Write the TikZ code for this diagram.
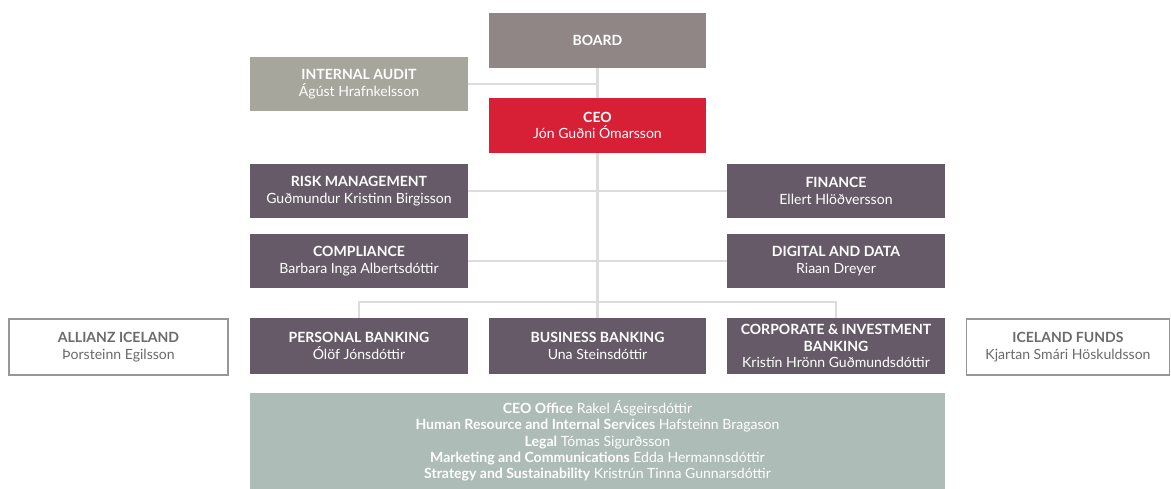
\documentclass[tikz,border=0pt]{standalone}
\usepackage{fontspec}
\setmainfont{Lato}
\usepackage{tikz}

\definecolor{boardgray}{HTML}{908686}
\definecolor{auditgray}{HTML}{A6A69C}
\definecolor{ceored}{HTML}{D71F35}
\definecolor{unitplum}{HTML}{665A68}
\definecolor{officegreen}{HTML}{ADBCB6}
\definecolor{linegray}{HTML}{DCDCDC}
\definecolor{textgray}{HTML}{6B6B6B}

\tikzset{
    unit/.style={minimum width=4.36cm, minimum height=1.1cm, inner sep=0pt,
        align=center, text=white, font=\fontsize{8}{9.5}\selectfont},
    plumbox/.style={unit, fill=unitplum},
    outsidebox/.style={unit, fill=white, draw=textgray!70, line width=0.6pt, text=textgray},
    orgline/.style={draw=linegray, line width=1.2pt}
}

\begin{document}
\begin{tikzpicture}[x=0.02cm, y=-0.02cm]
    % Page frame
    \useasboundingbox (0,0) rectangle (1171,489);

    % Top: board, internal audit, CEO
    \node[unit, fill=boardgray, minimum width=4.34cm] (board) at (597.5,40.5) {\bfseries BOARD};
    \node[unit, fill=auditgray, minimum height=1.08cm] (audit) at (359,84) {\bfseries INTERNAL AUDIT\\ Ágúst Hrafnkelsson};
    \node[unit, fill=ceored, minimum width=4.34cm] (ceo) at (597.5,125.5) {\bfseries CEO\\ Jón Guðni Ómarsson};

    % Staff functions
    \node[plumbox, minimum height=1.08cm] (risk) at (359,191) {\bfseries RISK MANAGEMENT\\ Guðmundur Kristinn Birgisson};
    \node[plumbox, minimum height=1.08cm] (finance) at (836,191) {\bfseries FINANCE\\ Ellert Hlöðversson};
    \node[plumbox, minimum height=1.08cm] (compliance) at (359,261) {\bfseries COMPLIANCE\\ Barbara Inga Albertsdóttir};
    \node[plumbox, minimum height=1.08cm] (digital) at (836,261) {\bfseries DIGITAL AND DATA\\ Riaan Dreyer};

    % Business units
    \node[plumbox, minimum height=1.12cm] (personal) at (359,346) {\bfseries PERSONAL BANKING\\ Ólöf Jónsdóttir};
    \node[plumbox, minimum height=1.12cm, minimum width=4.34cm] (business) at (597.5,346) {\bfseries BUSINESS BANKING\\ Una Steinsdóttir};
    \node[plumbox, minimum height=1.12cm] (corporate) at (836,346) {\bfseries CORPORATE \& INVESTMENT\\ \bfseries BANKING\\ Kristín Hrönn Guðmundsdóttir};

    % Subsidiaries
    \node[outsidebox, minimum height=1.12cm, minimum width=4.38cm] (allianz) at (118.5,347) {\bfseries ALLIANZ ICELAND\\ Þorsteinn Egilsson};
    \node[outsidebox, minimum height=1.12cm, minimum width=4.06cm] (funds) at (1068,347) {\bfseries ICELAND FUNDS\\ Kjartan Smári Höskuldsson};

    % CEO office and support functions
    \node[unit, fill=officegreen, minimum width=13.9cm, minimum height=1.92cm,
        font=\fontsize{8}{9.3}\selectfont] (office) at (597.5,441)
        {{\bfseries CEO Office} Rakel Ásgeirsdóttir\\
         {\bfseries Human Resource and Internal Services} Hafsteinn Bragason\\
         {\bfseries Legal} Tómas Sigurðsson\\
         {\bfseries Marketing and Communications} Edda Hermannsdóttir\\
         {\bfseries Strategy and Sustainability} Kristrún Tinna Gunnarsdóttir};

    % Connectors
    \coordinate (branch) at (business.north |- 0,302);
    \draw[orgline] (board.south) -- (ceo.north);
    \draw[orgline] (audit.east) -- (audit.east -| board.south);
    \draw[orgline] (ceo.south) -- (business.north);
    \draw[orgline] (risk.east) -- (finance.west);
    \draw[orgline] (compliance.east) -- (digital.west);
    \draw[orgline] (personal.north) |- (branch) -| (corporate.north);
\end{tikzpicture}
\end{document}
